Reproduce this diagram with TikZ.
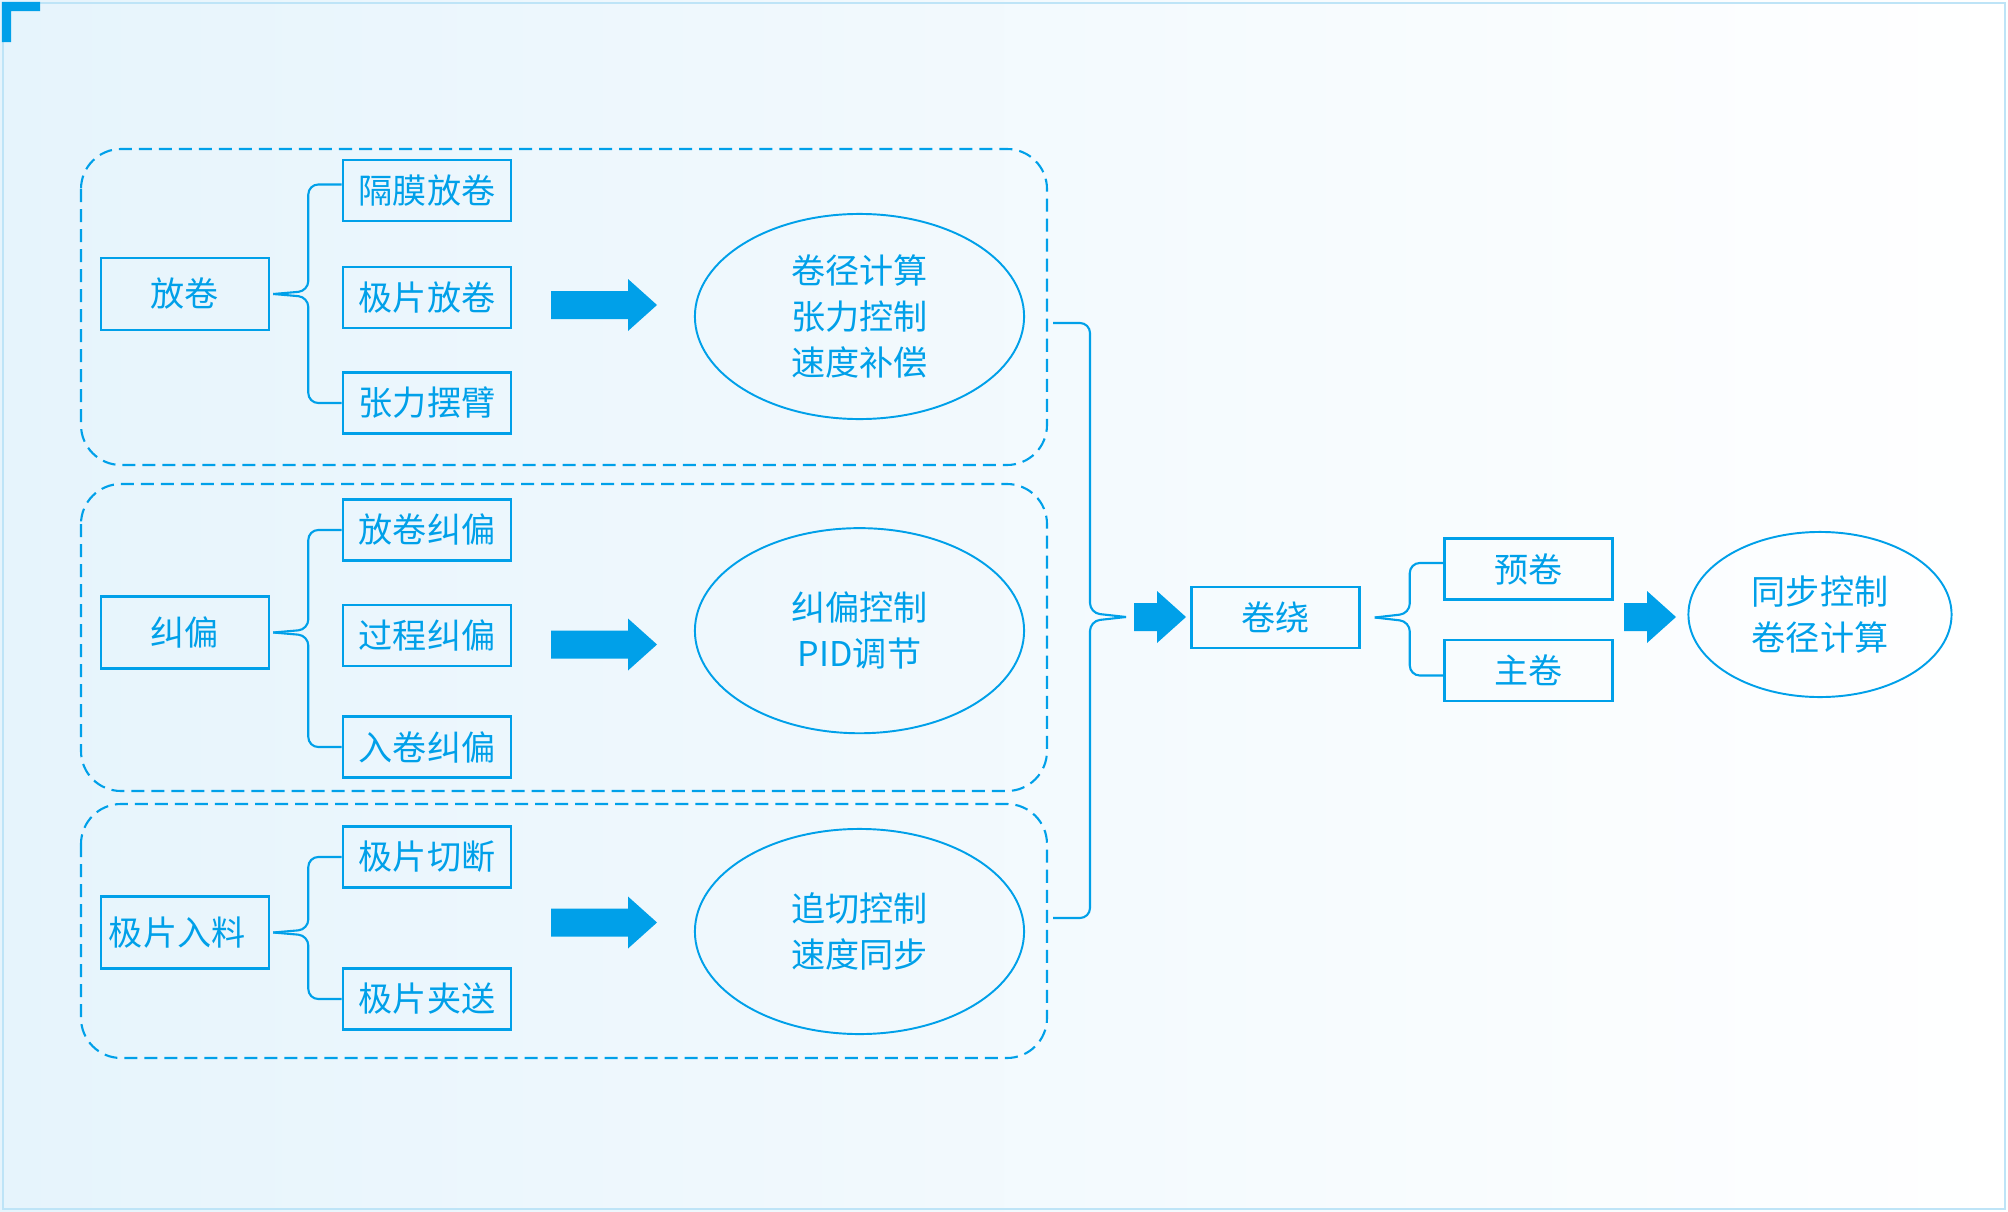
\documentclass[tikz,border=0pt]{standalone}
\usepackage{fontspec}
\setmainfont{Noto Sans CJK SC}
\usepackage{tikz}
\usetikzlibrary{shapes.geometric}

\definecolor{lineblue}{HTML}{00A0E9}
\definecolor{frameblue}{HTML}{BEE4F7}
\definecolor{bgblue}{HTML}{E6F4FC}

% x, y (tip height), body length, head length
\newcommand{\fatarrow}[4]{\fill [lineblue] (#1,#2-14) -- ++(#3,0) -- ++(0,-12) -- ++(#4,26) -- ++(-#4,26) -- ++(0,-12) -- ++(-#3,0) -- cycle;}

\begin{document}
\begin{tikzpicture}[x=0.01cm,y=-0.01cm,
	itembox/.style={draw=lineblue,line width=0.7pt,text=lineblue,minimum width=1.68cm,minimum height=0.61cm,inner sep=0pt,font=\fontsize{9.7pt}{13.1pt}\selectfont},
	mainbox/.style={itembox,minimum height=0.72cm},
	ctrl/.style={draw=lineblue,line width=0.55pt,ellipse,text=lineblue,inner sep=0pt,minimum width=3.29cm,minimum height=2.05cm,align=center,font=\fontsize{9.7pt}{13.1pt}\selectfont},
	groupbox/.style={draw=lineblue,line width=0.6pt,dash pattern=on 0.13cm off 0.07cm,rounded corners=0.4cm},
	branch/.style={draw=lineblue,line width=0.6pt,rounded corners=0.1cm}]

\useasboundingbox (0,0) rectangle (2008,1212);
\shade [left color=bgblue,right color=white] (0,0) rectangle (2008,1212);
\draw [frameblue,line width=0.7pt] (3,3) rectangle (2005,1209);
\fill [lineblue] (2,2) -- (40,2) -- (40,11) -- (11,11) -- (11,42) -- (2,42) -- cycle;

% unwinding
\draw [groupbox] (81,149) rectangle (1047,465);
\node (fangjuan)	at (185,294)	[mainbox] {放卷};
\node (gemo)		at (427,190.5)	[itembox] {隔膜放卷};
\node (jipian)		at (427,297.5)	[itembox] {极片放卷};
\node (zhangli)		at (427,403)	[itembox] {张力摆臂};
\draw [branch] ([xshift=0.03cm]fangjuan.east) -- ++(35,-3) |- ([yshift=0.06cm]gemo.west);
\draw [branch] ([xshift=0.03cm]fangjuan.east) -- ++(35,3) |- (zhangli.west);
\fatarrow{551}{305}{77}{29}
\node (unwind_ctrl)	at (859.5,316.5)	[ctrl] {卷径计算\\张力控制\\速度补偿};

% deviation correction
\draw [groupbox] (81,484) rectangle (1047,791);
\node (jiupian)		at (185,632.5)	[mainbox] {纠偏};
\node (fj_jiupian)	at (427,530)	[itembox] {放卷纠偏};
\node (gc_jiupian)	at (427,635.5)	[itembox] {过程纠偏};
\node (rj_jiupian)	at (427,747)	[itembox] {入卷纠偏};
\draw [branch] ([xshift=0.03cm]jiupian.east) -- ++(35,-3) |- (fj_jiupian.west);
\draw [branch] ([xshift=0.03cm]jiupian.east) -- ++(35,3) |- (rj_jiupian.west);
\fatarrow{551}{644.5}{77}{29}
\node (jiupian_ctrl)	at (859.5,630.7)	[ctrl] {纠偏控制\\PID调节};

% electrode feeding
\draw [groupbox] (81,804) rectangle (1047,1058);
\node (jp_ruliao)	at (185,932.5)	[mainbox,text width=1.52cm,inner xsep=0.08cm,align=left] {极片入料};
\node (jp_qieduan)	at (427,857)	[itembox] {极片切断};
\node (jp_jiasong)	at (427,999)	[itembox] {极片夹送};
\draw [branch] ([xshift=0.03cm]jp_ruliao.east) -- ++(35,-3) |- (jp_qieduan.west);
\draw [branch] ([xshift=0.03cm]jp_ruliao.east) -- ++(35,3) |- (jp_jiasong.west);
\fatarrow{551}{922.5}{77}{29}
\node (feed_ctrl)	at (859.5,931.5)	[ctrl] {追切控制\\速度同步};

% winding
\coordinate (group1_out)	at (1053,323);
\coordinate (group3_out)	at (1053,918);
\coordinate (merge_tip)		at (1126,617);
\draw [branch] (merge_tip) -- ++(-36,-4) |- (group1_out);
\draw [branch] (merge_tip) -- ++(-36,4) |- (group3_out);
\fatarrow{1134}{617}{23}{29}
\node (juanrao)		at (1275.5,617.5)	[itembox] {卷绕};
\node (yujuan)		at (1528.5,569)	[itembox] {预卷};
\node (zhujuan)		at (1528.5,670.5)	[itembox] {主卷};
\draw [branch] ([xshift=0.14cm]juanrao.east) -- ++(35,-4) |- ([yshift=0.06cm]yujuan.west);
\draw [branch] ([xshift=0.14cm]juanrao.east) -- ++(35,4) |- ([yshift=-0.05cm]zhujuan.west);
\fatarrow{1624}{617}{23}{29}
\node (sync_ctrl)	at (1820,614.5)	[ctrl,minimum width=2.63cm,minimum height=1.65cm] {同步控制\\卷径计算};

\end{tikzpicture}
\end{document}
